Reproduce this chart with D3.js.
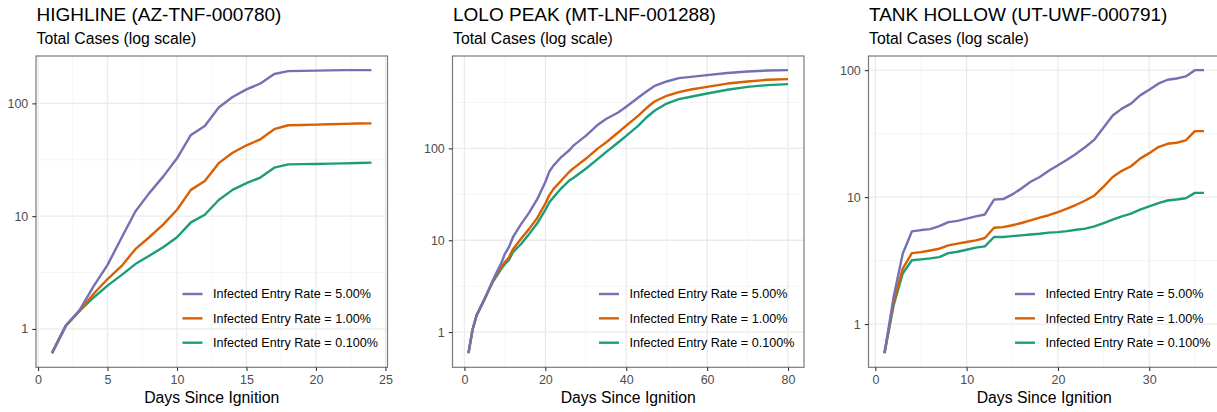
<!DOCTYPE html>
<html>
<head>
<meta charset="utf-8">
<script src="https://cdn.jsdelivr.net/npm/d3@7"></script>
<style>
  html, body { margin: 0; padding: 0; background: #fff; }
  svg { display: block; }
  text { font-family: "Liberation Sans", Arial, sans-serif; }
</style>
</head>
<body>
<svg id="chart" width="1217" height="412"></svg>
<script>
// ---------------- data ----------------
const panelTitles = ["HIGHLINE (AZ-TNF-000780)", "LOLO PEAK (MT-LNF-001288)", "TANK HOLLOW (UT-UWF-000791)"];
const subtitle = "Total Cases (log scale)";
const xTitle = "Days Since Ignition";
const seriesLabels = ["Infected Entry Rate = 5.00%", "Infected Entry Rate = 1.00%", "Infected Entry Rate = 0.100%"];
const seriesColors = ["#7570b3", "#d95f02", "#1b9e77"];

const days1 = [1,2,3,4,5,6,7,8,9,10,11,12,13,14,15,16,17,18,19,20,21,22,23,24];
const highline5  = [0.61,1.07,1.48,2.4,3.7,6.4,11,16,22.4,32.6,52.5,63,92,114,133,150,182,193,194,195,196,197,197,197];
const highline1  = [0.61,1.07,1.45,2.05,2.77,3.6,5.1,6.5,8.4,11.4,17.1,20.5,29.5,36.5,42.5,48,59,64,64.3,64.8,65.3,65.8,66.2,66.5];
const highline01 = [0.61,1.07,1.45,1.9,2.42,3.0,3.76,4.45,5.3,6.5,8.8,10.3,13.9,17.1,19.6,22,26.9,28.8,28.9,29,29.2,29.4,29.6,29.8];

const days2 = [1,2,3,4,5,6,7,8,9,10,11,12,14,16,18,20,21,22,24,26,27,30,33,35,38,40,43,45,47,50,53,56,60,65,70,75,80];
const lolo5  = [0.59,1.06,1.52,1.87,2.3,2.9,3.65,4.5,5.5,7.1,8.4,10.8,15,20,28,43,56,65,81,96,108,137,181,209,246,284,358,417,479,535,582,601,628,661,687,704,711];
const lolo1  = [0.59,1.06,1.52,1.87,2.3,2.85,3.55,4.3,5.0,5.8,6.5,8.0,10.4,13.3,17.5,25,31,36,45,56,61,77,100,116,149,177,227,275,324,374,410,438,468,508,535,558,568];
const lolo01 = [0.59,1.06,1.52,1.87,2.3,2.85,3.5,4.1,4.8,5.5,6.1,7.4,9.1,11.7,15.3,21.4,25.9,29.3,37,45,48,60,77,91,116,137,177,217,257,308,344,365,396,435,468,489,501];

const days3 = [1,2,3,4,5,6,7,8,9,10,11,12,13,14,15,16,17,18,19,20,21,22,23,24,25,26,27,28,29,30,31,32,33,34,35,36];
const tank5  = [0.59,1.63,3.58,5.37,5.5,5.6,5.9,6.35,6.5,6.76,7.05,7.3,9.55,9.65,10.5,11.7,13.2,14.4,16.1,17.8,19.7,22,24.8,28.4,35.3,44,49.8,54.5,63.3,70.2,78.3,84,86,89.3,100,100];
const tank1  = [0.59,1.49,2.73,3.62,3.69,3.8,3.92,4.17,4.3,4.43,4.56,4.76,5.74,5.8,6.0,6.25,6.56,6.9,7.2,7.63,8.1,8.7,9.4,10.3,12.1,14.4,16.1,17.5,20.1,22.2,24.8,26.3,26.8,28,33.1,33.1];
const tank01 = [0.59,1.4,2.5,3.18,3.23,3.29,3.37,3.62,3.71,3.85,4.0,4.09,4.85,4.85,4.93,5.0,5.08,5.15,5.25,5.3,5.4,5.53,5.64,5.88,6.25,6.64,7.05,7.4,7.96,8.45,8.98,9.4,9.58,9.8,10.8,10.8];

const xTicks1 = [0,5,10,15,20,25];
const xTicks2 = [0,20,40,60,80];
const xTicks3 = [0,10,20,30];
const yTicks = [1,10,100];
const yTickLabels = ["1","10","100"];

const panels = [
  { title: panelTitles[0], days: days1, series: [highline5, highline1, highline01], xTicks: xTicks1 },
  { title: panelTitles[1], days: days2, series: [lolo5, lolo1, lolo01], xTicks: xTicks2 },
  { title: panelTitles[2], days: days3, series: [tank5, tank1, tank01], xTicks: xTicks3 }
];

// ---------------- layout ----------------
const svg = d3.select("#chart");
const panelLefts = [36, 452.5, 868.5];
const panelW = 351.5;
const panelTop = 56;
const panelH = 311.3;
const font = '"Liberation Sans", Arial, sans-serif';

panels.forEach((p, i) => {
  const left = panelLefts[i];
  const g = svg.append("g").attr("transform", `translate(${left},${panelTop})`);

  // ggplot-style 5% expansion
  const xExt = d3.extent(p.days);
  const xPad = (xExt[1] - xExt[0]) * 0.05;
  const x = d3.scaleLinear().domain([xExt[0] - xPad, xExt[1] + xPad]).range([0, panelW]);

  const allV = p.series.flat();
  const lmin = Math.log10(d3.min(allV)), lmax = Math.log10(d3.max(allV));
  const lpad = (lmax - lmin) * 0.05;
  const y = d3.scaleLog().domain([Math.pow(10, lmin - lpad), Math.pow(10, lmax + lpad)]).range([panelH, 0]);

  // minor grid (midpoints in transformed space)
  const xMinor = [];
  for (let k = 0; k < p.xTicks.length; k++) {
    const step = p.xTicks[1] - p.xTicks[0];
    const v = p.xTicks[k] + step / 2;
    if (v >= x.domain()[0] && v <= x.domain()[1]) xMinor.push(v);
  }
  const yMinor = yTicks.map(t => t * Math.sqrt(10)).concat([Math.sqrt(10) / 10])
    .filter(v => v >= y.domain()[0] && v <= y.domain()[1]);

  const grid = g.append("g");
  grid.selectAll("line.xminor").data(xMinor).join("line")
    .attr("x1", d => x(d)).attr("x2", d => x(d)).attr("y1", 0).attr("y2", panelH)
    .attr("stroke", "#f0f0f0").attr("stroke-width", 0.7);
  grid.selectAll("line.yminor").data(yMinor).join("line")
    .attr("y1", d => y(d)).attr("y2", d => y(d)).attr("x1", 0).attr("x2", panelW)
    .attr("stroke", "#f0f0f0").attr("stroke-width", 0.7);
  grid.selectAll("line.xmajor").data(p.xTicks.filter(v => v >= x.domain()[0] && v <= x.domain()[1])).join("line")
    .attr("x1", d => x(d)).attr("x2", d => x(d)).attr("y1", 0).attr("y2", panelH)
    .attr("stroke", "#ebebeb").attr("stroke-width", 1.3);
  grid.selectAll("line.ymajor").data(yTicks).join("line")
    .attr("y1", d => y(d)).attr("y2", d => y(d)).attr("x1", 0).attr("x2", panelW)
    .attr("stroke", "#ebebeb").attr("stroke-width", 1.3);

  // lines (draw lowest rate first so 5% is on top)
  const line = d3.line().x((d, j) => x(p.days[j])).y(d => y(d));
  [2, 1, 0].forEach(s => {
    g.append("path").datum(p.series[s])
      .attr("d", line)
      .attr("fill", "none")
      .attr("stroke", seriesColors[s])
      .attr("stroke-width", 2.4)
      .attr("stroke-linejoin", "round");
  });

  // border
  g.append("rect").attr("x", 0).attr("y", 0).attr("width", panelW).attr("height", panelH)
    .attr("fill", "none").attr("stroke", "#7a7a7a").attr("stroke-width", 1.2);

  // axes
  const xAxis = d3.axisBottom(x).tickValues(p.xTicks).tickSize(3.7).tickPadding(4).tickFormat(d3.format("d"));
  const xa = g.append("g").attr("transform", `translate(0,${panelH})`).call(xAxis);
  xa.select(".domain").remove();
  xa.selectAll(".tick line").attr("stroke", "#333").attr("stroke-width", 1.1);
  xa.selectAll(".tick text").attr("fill", "#4d4d4d").style("font-size", "12.5px").style("font-family", font);

  const yAxis = d3.axisLeft(y).tickValues(yTicks).tickSize(3.7).tickPadding(4)
    .tickFormat((d, k) => yTickLabels[k]);
  const ya = g.append("g").call(yAxis);
  ya.select(".domain").remove();
  ya.selectAll(".tick line").attr("stroke", "#333").attr("stroke-width", 1.1);
  ya.selectAll(".tick text").attr("fill", "#4d4d4d").style("font-size", "12.5px").style("font-family", font);

  // titles
  svg.append("text").attr("x", left + 0.5).attr("y", 20.7)
    .style("font-size", "19px").attr("fill", "#000").text(p.title);
  svg.append("text").attr("x", left + 0.5).attr("y", 43.5)
    .style("font-size", "15.8px").attr("fill", "#000").text(subtitle);
  svg.append("text").attr("x", left + panelW / 2).attr("y", 403.3)
    .attr("text-anchor", "middle").style("font-size", "15.8px").attr("fill", "#000").text(xTitle);

  // legend
  const lg = g.append("g").attr("transform", `translate(${panelW - 205},${panelH - 73.3})`);
  seriesLabels.forEach((lab, s) => {
    const row = lg.append("g").attr("transform", `translate(0,${s * 24.35})`);
    row.append("line").attr("x1", 0).attr("x2", 20).attr("y1", 0).attr("y2", 0)
      .attr("stroke", seriesColors[s]).attr("stroke-width", 2.4);
    row.append("text").attr("x", 30.5).attr("y", 0).attr("dy", "0.35em")
      .style("font-size", "12.6px").attr("fill", "#000").text(lab);
  });
});
</script>
</body>
</html>
